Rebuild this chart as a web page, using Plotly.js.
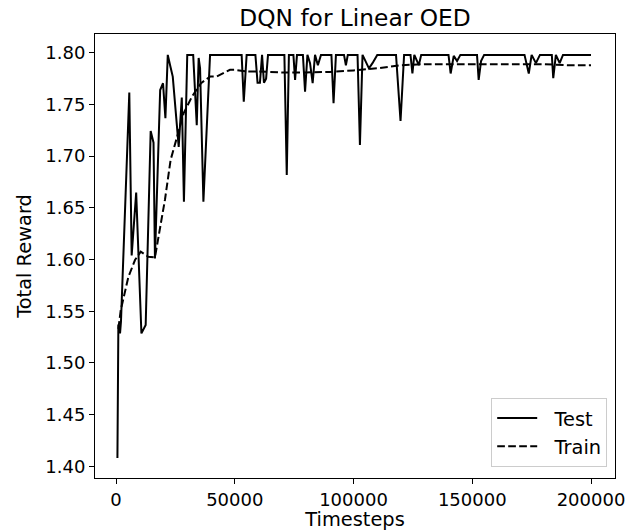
<!DOCTYPE html>
<html>
<head>
<meta charset="utf-8">
<script src="https://cdn.plot.ly/plotly-3.0.1.min.js"></script>
<style>html,body{margin:0;padding:0;background:#fff;}#chart{width:631px;height:531px;}</style>
</head>
<body>
<div id="chart"></div>
<script>
// Test (evaluation) reward, vertices
const testSteps = [600, 1000, 1700, 2100, 5600, 6600, 8500, 10700, 12500, 14600, 15800, 16400, 18600, 19800, 20800, 21800, 22900, 23900, 26400, 27700, 28600, 30000, 32500, 34000, 34800, 35400, 36800, 39600, 52900, 53800, 55000, 57300, 58700, 59600, 60600, 61500, 62300, 63200, 64000, 70900, 71900, 72800, 74700, 75400, 76200, 78700, 79600, 80600, 81700, 82800, 83800, 85000, 86300, 90700, 91600, 92600, 96000, 96800, 97600, 101700, 102700, 103800, 105000, 106500, 108000, 110000, 117900, 119800, 121300, 124000, 124800, 125600, 127500, 128500, 129500, 140000, 140900, 142200, 143600, 145000, 152000, 152700, 153700, 155000, 172000, 173800, 175000, 176800, 178500, 183500, 184100, 185200, 186800, 188200, 200000];
const testReward = [1.408, 1.537, 1.5285, 1.540, 1.7615, 1.604, 1.6647, 1.5285, 1.5366, 1.7243, 1.713, 1.601, 1.764, 1.7706, 1.7368, 1.798, 1.7867, 1.777, 1.709, 1.7567, 1.656, 1.798, 1.798, 1.730, 1.795, 1.785, 1.656, 1.798, 1.798, 1.7528, 1.798, 1.798, 1.798, 1.771, 1.771, 1.798, 1.771, 1.775, 1.798, 1.798, 1.6818, 1.798, 1.798, 1.7738, 1.798, 1.798, 1.7625, 1.798, 1.790, 1.7706, 1.798, 1.788, 1.798, 1.798, 1.7513, 1.798, 1.798, 1.788, 1.798, 1.798, 1.7109, 1.798, 1.792, 1.785, 1.790, 1.798, 1.798, 1.734, 1.798, 1.798, 1.780, 1.798, 1.788, 1.798, 1.798, 1.798, 1.780, 1.797, 1.792, 1.798, 1.798, 1.7738, 1.792, 1.798, 1.798, 1.780, 1.798, 1.790, 1.798, 1.798, 1.7755, 1.798, 1.790, 1.798, 1.798];
// Train reward (smoothed)
const trainSteps = [1000, 2000, 5200, 8000, 10400, 13600, 16400, 18500, 20600, 23000, 26000, 28500, 32000, 35800, 39600, 42400, 45200, 48000, 50000, 55000, 60000, 70000, 80000, 90000, 100000, 110000, 120000, 130000, 140000, 150000, 160000, 170000, 180000, 190000, 200000];
const trainReward = [1.533, 1.551, 1.583, 1.5995, 1.6076, 1.6027, 1.6021, 1.6286, 1.6576, 1.6964, 1.7206, 1.7416, 1.7577, 1.7706, 1.777, 1.777, 1.7803, 1.7835, 1.7835, 1.782, 1.782, 1.781, 1.781, 1.7815, 1.783, 1.785, 1.788, 1.789, 1.789, 1.789, 1.789, 1.789, 1.789, 1.788, 1.788];

const seriesNames = ["Test", "Train"];
const xTicks = [0, 50000, 100000, 150000, 200000];
const yTicks = [1.40, 1.45, 1.50, 1.55, 1.60, 1.65, 1.70, 1.75, 1.80];

const font = "DejaVu Sans, sans-serif";
const fs = 19.4;   // axis titles and legend
const tfs = 18;    // tick labels
const gap = "\u00a0\u00a0";
const traces = [
  {x: testSteps, y: testReward, name: gap + seriesNames[0], type: "scatter", mode: "lines",
   line: {color: "#000000", width: 2}},
  {x: trainSteps, y: trainReward, name: gap + seriesNames[1], type: "scatter", mode: "lines",
   line: {color: "#000000", width: 2, dash: "7.7px,3.3px"}}
];
const layout = {
  width: 631, height: 531,
  margin: {l: 95, r: 16, t: 34, b: 53, pad: 0},
  paper_bgcolor: "#ffffff", plot_bgcolor: "#ffffff",
  font: {family: font, size: fs, color: "#000000"},
  title: {text: "DQN for Linear OED", font: {family: font, size: 23.3, color: "#000"},
          x: 0.5, xref: "paper", y: 1, yref: "paper", yanchor: "bottom", pad: {b: 8}},
  xaxis: {
    range: [-8840, 210100], tickvals: xTicks, ticktext: xTicks.map(String),
    showgrid: false, zeroline: false, showline: true, mirror: true,
    linecolor: "#000000", linewidth: 1, ticks: "outside", ticklen: 5, tickcolor: "#000",
    tickfont: {family: font, size: tfs},
    title: {text: "Timesteps", font: {family: font, size: fs}, standoff: 2}
  },
  yaxis: {
    range: [1.3886, 1.8182], tickvals: yTicks, ticktext: yTicks.map(v => v.toFixed(2)),
    showgrid: false, zeroline: false, showline: true, mirror: true,
    linecolor: "#000000", linewidth: 1, ticks: "outside", ticklen: 5, tickcolor: "#000",
    tickfont: {family: font, size: tfs},
    title: {text: "Total Reward", font: {family: font, size: fs}, standoff: 8}
  },
  showlegend: true,
  legend: {x: 0.985, xanchor: "right", y: 0.025, yanchor: "bottom",
           bgcolor: "rgba(255,255,255,0.8)", bordercolor: "#cccccc", borderwidth: 1,
           itemwidth: 40,
           font: {family: font, size: fs}, tracegroupgap: 0}
};
Plotly.newPlot("chart", traces, layout, {displayModeBar: false, staticPlot: true});
</script>
</body>
</html>
